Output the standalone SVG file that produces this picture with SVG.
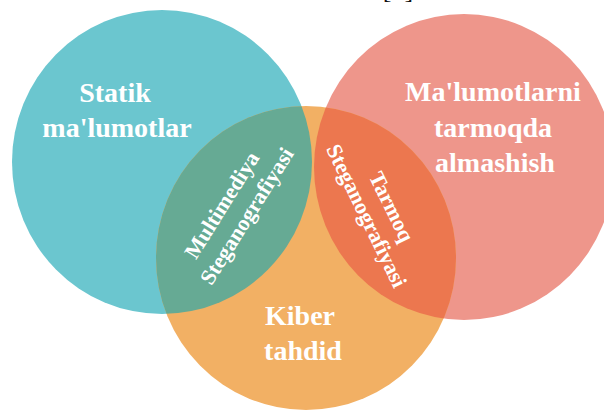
<svg xmlns="http://www.w3.org/2000/svg" width="604" height="410" viewBox="0 0 604 410">
<style>
.lbl{font-family:"Liberation Serif","Times New Roman",serif;font-weight:bold;font-size:28px;fill:#ffffff;text-anchor:middle}
.rot{font-family:"Liberation Serif","Times New Roman",serif;font-weight:bold;font-size:22px;fill:#ffffff;text-anchor:middle}
.ref{font-family:"Liberation Serif","Times New Roman",serif;font-size:26px;fill:#111111;text-anchor:middle}
</style>
<defs>
<clipPath id="clipOrange"><ellipse cx="306" cy="258" rx="150" ry="152"/></clipPath>
</defs>
<rect width="604" height="410" fill="#ffffff"/>
<text class="ref" x="398" y="-2">[1]</text>
<g id="statik">
<ellipse cx="162" cy="162" rx="150" ry="152" fill="#6BC6CF"/>
</g>
<g id="tarmoq-almashish">
<ellipse cx="464" cy="167" rx="150" ry="153" fill="#EE968B"/>
</g>
<g id="kiber">
<ellipse cx="306" cy="258" rx="150" ry="152" fill="#F2B064"/>
</g>
<g id="multimediya">
<ellipse cx="162" cy="162" rx="150" ry="152" fill="#66AA94" clip-path="url(#clipOrange)"/>
</g>
<g id="tarmoq-steg">
<ellipse cx="464" cy="167" rx="150" ry="153" fill="#EC774F" clip-path="url(#clipOrange)"/>
</g>
<g id="connectors"/>
<g id="labels">
<text class="lbl" x="115" y="102">Statik</text>
<text class="lbl" x="117" y="137">ma'lumotlar</text>
<text class="lbl" x="493" y="101">Ma'lumotlarni</text>
<text class="lbl" x="493" y="137">tarmoqda</text>
<text class="lbl" x="495" y="172">almashish</text>
<text class="lbl" x="300" y="325">Kiber</text>
<text class="lbl" x="303" y="360">tahdid</text>
<text class="rot" transform="translate(228,209) rotate(-58)">Multimediya</text>
<text class="rot" transform="translate(253,220) rotate(-58)">Steganografiyasi</text>
<text class="rot" transform="translate(385,210) rotate(64)">Tarmoq</text>
<text class="rot" transform="translate(360,219) rotate(64)">Steganografiyasi</text>
</g>
</svg>
